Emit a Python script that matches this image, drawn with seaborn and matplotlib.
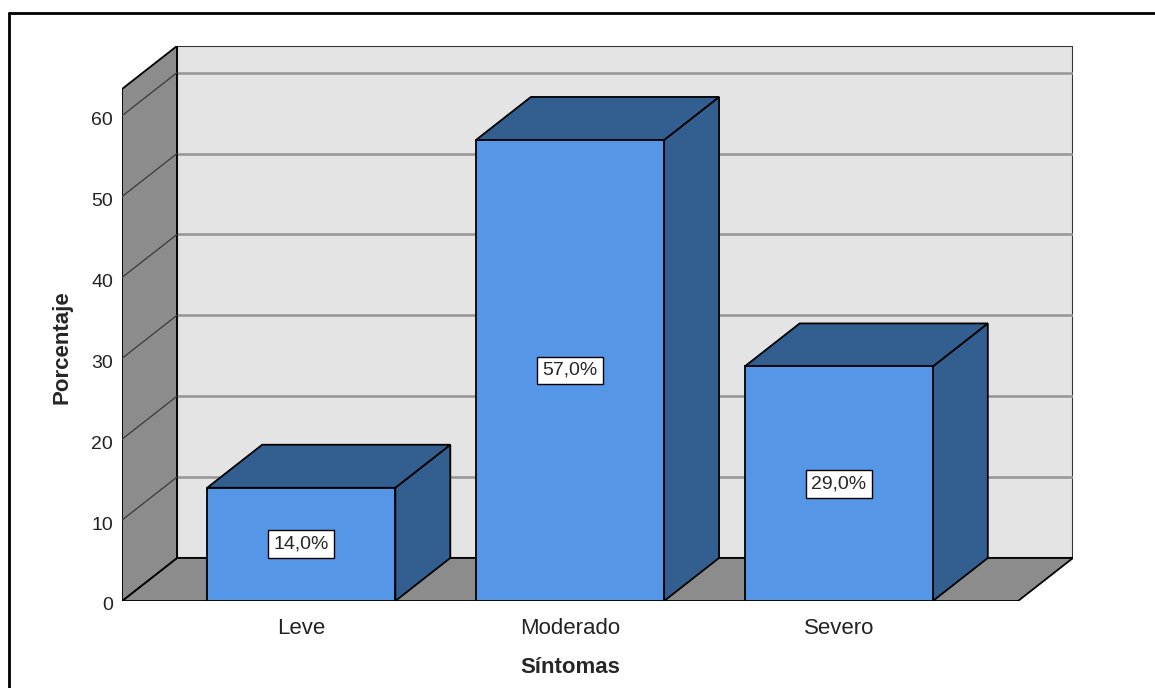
import matplotlib.pyplot as plt
import matplotlib as mpl
import matplotlib.transforms as mtransforms
from matplotlib.patches import Polygon
from matplotlib.lines import Line2D
import pandas as pd
import seaborn as sns

sns.set_style('white')
mpl.rcParams['font.family'] = ['Liberation Sans', 'DejaVu Sans']

categorias = ['Leve', 'Moderado', 'Severo']
porcentajes = [14.0, 57.0, 29.0]
yticks = [0, 10, 20, 30, 40, 50, 60]

FRONT = '#5596e6'
DARK = '#335e90'
WALL = '#8c8c8c'
BACK = '#e4e4e4'

# depth offset of the fake 3D box (data units)
DX, DY = 0.2045, 5.32
X0, X1 = -0.667, 2.667
YTOP = 63.3

df = pd.DataFrame({'Sintomas': categorias, 'Porcentaje': porcentajes})

fig = plt.figure(figsize=(11.55, 6.88), dpi=100)
ax = fig.add_axes([122 / 1155, 87 / 688, 951 / 1155, 555 / 688])

# back wall, floor, left wall
ax.add_patch(Polygon([(X0 + DX, DY), (X1 + DX, DY), (X1 + DX, YTOP + DY), (X0 + DX, YTOP + DY)],
                     fc=BACK, ec='#333333', lw=1.5, zorder=0))
ax.add_patch(Polygon([(X0, 0), (X1, 0), (X1 + DX, DY), (X0 + DX, DY)],
                     fc=WALL, ec='black', lw=1.3, zorder=1))
ax.add_patch(Polygon([(X0, 0), (X0 + DX, DY), (X0 + DX, YTOP + DY), (X0, YTOP)],
                     fc=WALL, ec='black', lw=1.3, zorder=1))
for t in yticks[1:]:
    ax.plot([X0 + DX, X1 + DX], [t + DY, t + DY], color='#959595', lw=1.8, zorder=0.5)
    ax.plot([X0, X0 + DX], [t, t + DY], color='#3a3a3a', lw=0.9, zorder=1.5)

sns.barplot(data=df, x='Sintomas', y='Porcentaje', ax=ax, color=FRONT, width=0.7,
            edgecolor='black', linewidth=1.3, saturation=1, zorder=3)

for p in ax.containers[0]:
    xl, w, h = p.get_x(), p.get_width(), p.get_height()
    xr = xl + w
    ax.add_patch(Polygon([(xr, 0), (xr + DX, DY), (xr + DX, h + DY), (xr, h)],
                         fc=DARK, ec='black', lw=1.3, zorder=2.5))
    ax.add_patch(Polygon([(xl, h), (xl + DX, h + DY), (xr + DX, h + DY), (xr, h)],
                         fc=DARK, ec='black', lw=1.3, zorder=2.5))

labels = [f'{v:.1f}%'.replace('.', ',') for v in porcentajes]
ax.bar_label(ax.containers[0], labels=labels, label_type='center', fontsize=14,
             bbox=dict(boxstyle='square,pad=0.28', fc='white', ec='black', lw=1.0), zorder=5)

# seaborn resets the categorical limits, so set them afterwards
ax.set_xlim(X0, X1 + DX)
ax.set_ylim(0, YTOP + DY)

for s in ax.spines.values():
    s.set_visible(False)
ax.set_yticks(yticks)
ax.tick_params(axis='y', length=0, pad=6.5, labelsize=14, labelcolor='#222222')
ax.tick_params(axis='x', length=0, pad=12, labelsize=16, labelcolor='#222222')
# SPSS puts the y labels a touch below the gridline
shift = mtransforms.ScaledTranslation(0, -3 / 100, fig.dpi_scale_trans)
for lab in ax.get_yticklabels():
    lab.set_transform(lab.get_transform() + shift)

ax.set_xlabel('Síntomas', fontsize=16, fontweight='bold', va='center')
ax.xaxis.set_label_coords(0.471, -0.1207)
ax.set_ylabel('Porcentaje', fontsize=16, fontweight='bold', va='center')
ax.yaxis.set_label_coords(-0.0631, 0.458)

# outer frame
fig.add_artist(Line2D([8.5 / 1155, 8.5 / 1155], [0, 1 - 13 / 688], color='black', lw=2))
fig.add_artist(Line2D([8.5 / 1155, 1], [1 - 13 / 688, 1 - 13 / 688], color='black', lw=2))

plt.savefig('out.png', dpi=100)
plt.close()
